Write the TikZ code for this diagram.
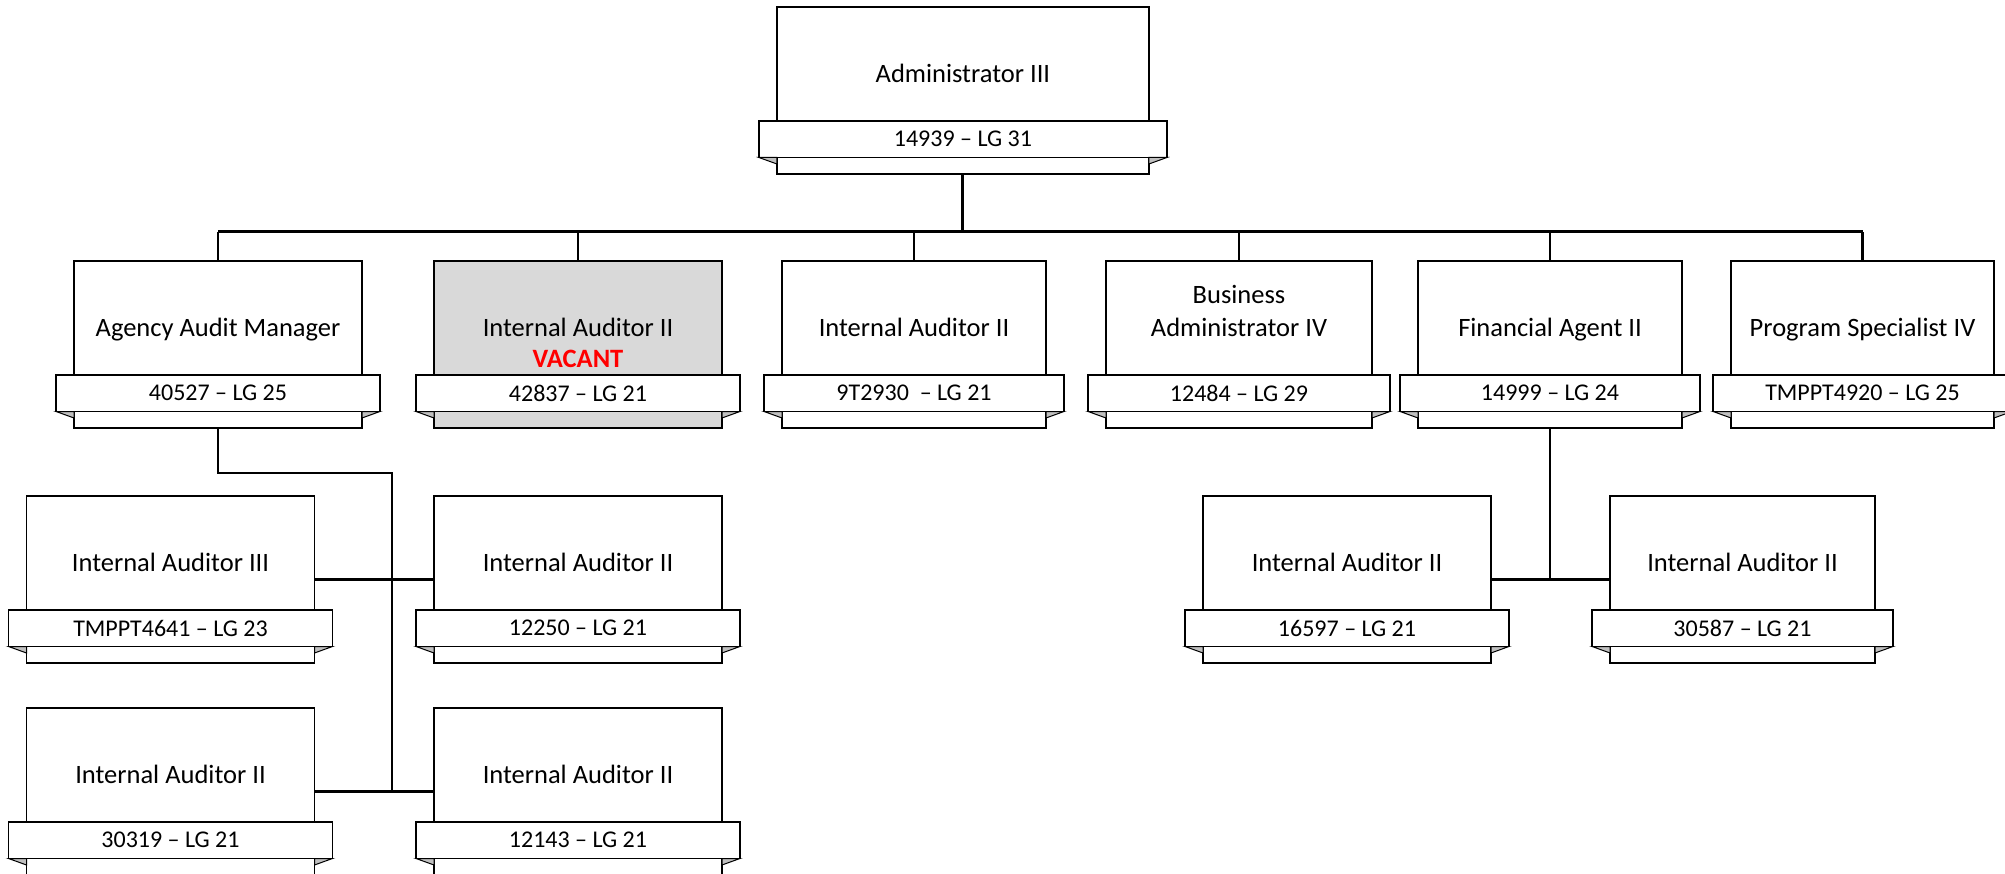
\documentclass[tikz,border=0pt]{standalone}
\usepackage{fontspec}
\setmainfont{Carlito}
\definecolor{vacgray}{RGB}{217,217,217}
\definecolor{foldgray}{RGB}{192,192,192}
\definecolor{vacred}{RGB}{255,0,0}
\tikzset{
  mainbox/.style={draw=black, line width=1.4pt, fill=white, rectangle, inner sep=0pt, outer sep=0pt, minimum height=167pt},
  bannerbox/.style={draw=black, line width=1.4pt, fill=white, rectangle, inner sep=0pt, outer sep=0pt, minimum height=36.5pt, font=\fontsize{24}{29}\selectfont},
  fold/.style={draw=black, line width=1pt, fill=foldgray, line join=miter},
  title/.style={anchor=base, inner sep=0pt, font=\fontsize{26.5}{32}\selectfont},
  vac/.style={anchor=base, inner sep=0pt, text=vacred, font=\fontsize{26.5}{32}\selectfont\bfseries},
  conn/.style={line width=2.2pt},
  busline/.style={line width=3pt},
}
% #1 name, #2 centre x, #3 top y, #4 main width, #5 extra style, #6 banner text
\newcommand\orgbox[6]{%
  \pgfmathsetmacro\bannerw{#4+36}%
  \node[mainbox,#5,minimum width=#4pt,anchor=north] (#1) at (#2,#3) {};
  \node[bannerbox,minimum width=\bannerw pt,anchor=north] (#1-b) at (#2,#3+114) {#6};
  \filldraw[fold] (#1-b.south west) -- (#1-b.south west -| #1.west) -- ++(0,6.5) -- cycle;
  \filldraw[fold] (#1-b.south east) -- (#1-b.south east -| #1.east) -- ++(0,6.5) -- cycle;
}
\begin{document}
\begin{tikzpicture}[x=1pt,y=-1pt]
\useasboundingbox (0,0) rectangle (2005,874);
\clip (0,0) rectangle (2005,874);

% top
\orgbox{admin}{962.9}{7}{372}{}{14939 – LG 31}
\node[title] (admin-t) at (962.9,82.5) {Administrator III};

% row 2
\orgbox{agency}{218}{261}{288}{}{40527 – LG 25}
\node[title] (agency-t) at (218,336.5) {Agency Audit Manager};

\orgbox{vacant}{578}{261}{288}{fill=vacgray}{42837 – LG 21}
\node[title] (vacant-t) at (578,336.5) {Internal Auditor II};
\node[vac] (vacant-v) at (578,368) {VACANT};

\orgbox{ia2a}{914}{261}{264}{}{9T2930\ \ – LG 21}
\node[title] (ia2a-t) at (914,336.5) {Internal Auditor II};

\orgbox{busadm}{1239}{261}{266}{}{12484 – LG 29}
\node[title] (busadm-t1) at (1239,303.3) {Business};
\node[title] (busadm-t2) at (1239,336.5) {Administrator IV};

\orgbox{finag}{1550}{261}{264}{}{14999 – LG 24}
\node[title] (finag-t) at (1550,336.5) {Financial Agent II};

\orgbox{progspec}{1862.5}{261}{263}{}{TMPPT4920 – LG 25}
\node[title] (progspec-t) at (1862.5,336.5) {Program Specialist IV};

% row 3
\orgbox{ia3}{170.5}{496}{288}{}{TMPPT4641 – LG 23}
\node[title] (ia3-t) at (170.5,571.5) {Internal Auditor III};

\orgbox{ia2b}{578}{496}{288}{}{12250 – LG 21}
\node[title] (ia2b-t) at (578,571.5) {Internal Auditor II};

\orgbox{ia2e}{1347}{496}{288}{}{16597 – LG 21}
\node[title] (ia2e-t) at (1347,571.5) {Internal Auditor II};

\orgbox{ia2f}{1742.5}{496}{265}{}{30587 – LG 21}
\node[title] (ia2f-t) at (1742.5,571.5) {Internal Auditor II};

% row 4
\orgbox{ia2c}{170.5}{708}{288}{}{30319 – LG 21}
\node[title] (ia2c-t) at (170.5,783.5) {Internal Auditor II};

\orgbox{ia2d}{578}{708}{288}{}{12143 – LG 21}
\node[title] (ia2d-t) at (578,783.5) {Internal Auditor II};

% connectors
\coordinate (busy) at (0,232);
\draw[busline] (admin.south) -- (admin.south |- busy);
\draw[busline] (agency.north |- busy) -- (progspec.north |- busy);
\foreach \n in {agency,vacant,ia2a,busadm,finag,progspec}
  \draw[conn] (\n.north) -- (\n.north |- busy);

\coordinate (lv) at (392,473);
\draw[conn] (agency.south) |- (lv) -- (lv |- ia2c.east);
\draw[conn] (ia3.east) -- (ia2b.west);
\draw[conn] (ia2c.east) -- (ia2d.west);

\draw[conn] (finag.south) -- (finag.south |- ia2e.east);
\draw[conn] (ia2e.east) -- (ia2f.west);
\end{tikzpicture}
\end{document}
